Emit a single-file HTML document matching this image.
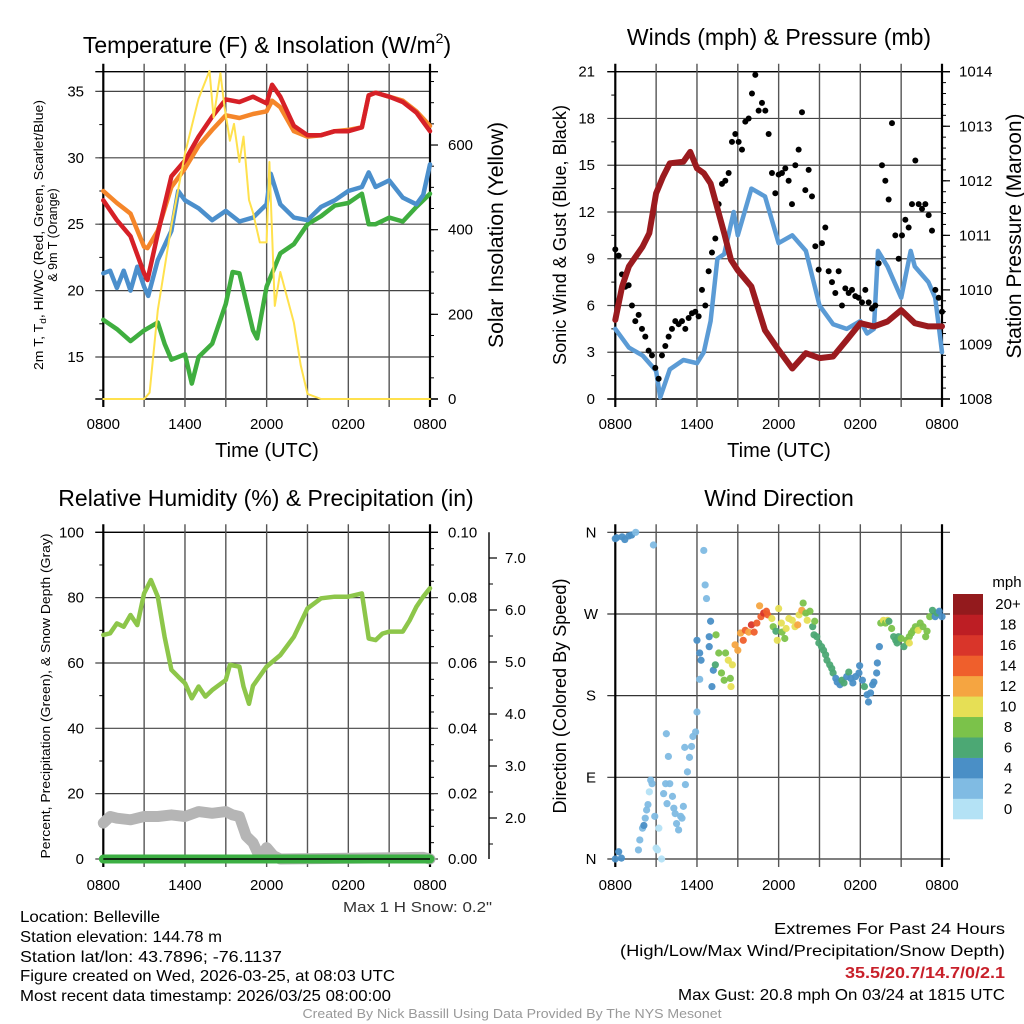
<!DOCTYPE html>
<html><head><meta charset="utf-8"><title>Belleville Mesonet Meteogram</title>
<style>
html,body{margin:0;padding:0;background:#fff;}
svg{display:block;font-family:"Liberation Sans",sans-serif;}
</style></head>
<body>
<svg id="chart" xmlns="http://www.w3.org/2000/svg" width="1024" height="1024" viewBox="0 0 1024 1024">
<rect x="0" y="0" width="1024" height="1024" fill="#fff"/>
<text x="267" y="53" font-size="23" text-anchor="middle">Temperature (F) &amp; Insolation (W/m<tspan font-size="14" dy="-10">2</tspan><tspan dy="10">)</tspan></text>
<text x="779" y="45" font-size="23" text-anchor="middle">Winds (mph) &amp; Pressure (mb)</text>
<text x="266" y="506" font-size="23" text-anchor="middle">Relative Humidity (%) &amp; Precipitation (in)</text>
<text x="779" y="506" font-size="23" text-anchor="middle">Wind Direction</text>
<text transform="translate(43,235) rotate(-90)" font-size="12.5" text-anchor="middle" textLength="270" lengthAdjust="spacingAndGlyphs">2m T, T<tspan font-size="9" dy="3">d</tspan><tspan dy="-3">, HI/WC (Red, Green, Scarlet/Blue)</tspan></text>
<text transform="translate(57,235) rotate(-90)" font-size="12.5" text-anchor="middle">&amp; 9m T (Orange)</text>
<text transform="translate(503,235) rotate(-90)" font-size="21" text-anchor="middle" textLength="226" lengthAdjust="spacingAndGlyphs">Solar Insolation (Yellow)</text>
<text x="267" y="457" font-size="20" text-anchor="middle">Time (UTC)</text>
<text transform="translate(566,235) rotate(-90)" font-size="18" text-anchor="middle" textLength="260" lengthAdjust="spacingAndGlyphs">Sonic Wind &amp; Gust (Blue, Black)</text>
<text transform="translate(1021,236) rotate(-90)" font-size="21" text-anchor="middle" textLength="245" lengthAdjust="spacingAndGlyphs">Station Pressure (Maroon)</text>
<text x="779" y="457" font-size="20" text-anchor="middle">Time (UTC)</text>
<text transform="translate(50,696) rotate(-90)" font-size="13" text-anchor="middle" textLength="325" lengthAdjust="spacingAndGlyphs">Percent, Precipitation (Green), &amp; Snow Depth (Gray)</text>
<text transform="translate(566,696) rotate(-90)" font-size="18" text-anchor="middle" textLength="235" lengthAdjust="spacingAndGlyphs">Direction (Colored By Speed)</text>
<g font-size="16">
<text x="20" y="922" textLength="140" lengthAdjust="spacingAndGlyphs">Location: Belleville</text>
<text x="20" y="942" textLength="202" lengthAdjust="spacingAndGlyphs">Station elevation: 144.78 m</text>
<text x="20" y="962" textLength="262" lengthAdjust="spacingAndGlyphs">Station lat/lon: 43.7896; -76.1137</text>
<text x="20" y="981" textLength="375" lengthAdjust="spacingAndGlyphs">Figure created on Wed, 2026-03-25, at 08:03 UTC</text>
<text x="20" y="1001" textLength="371" lengthAdjust="spacingAndGlyphs">Most recent data timestamp: 2026/03/25 08:00:00</text>
</g>
<text x="343" y="912" font-size="15" fill="#333" textLength="149" lengthAdjust="spacingAndGlyphs">Max 1 H Snow: 0.2"</text>
<g font-size="16" text-anchor="end">
<text x="1005" y="934" textLength="231" lengthAdjust="spacingAndGlyphs">Extremes For Past 24 Hours</text>
<text x="1005" y="956" textLength="385" lengthAdjust="spacingAndGlyphs">(High/Low/Max Wind/Precipitation/Snow Depth)</text>
<text x="1005" y="978" fill="#c8202a" font-weight="bold" textLength="160" lengthAdjust="spacingAndGlyphs">35.5/20.7/14.7/0/2.1</text>
<text x="1005" y="1000" textLength="327" lengthAdjust="spacingAndGlyphs">Max Gust: 20.8 mph On 03/24 at 1815 UTC</text>
</g>
<text x="512" y="1018" font-size="13" fill="#999" text-anchor="middle" textLength="419" lengthAdjust="spacingAndGlyphs">Created By Nick Bassill Using Data Provided By The NYS Mesonet</text>
</svg>
<script>
const timeTickHours = [0, 6, 12, 18, 24];
const timeTickLabels = ['0800', '1400', '2000', '0200', '0800'];

const tempTimes = [0,1,2,3,3.25,4,5,6,7,8,9,10,11,12,12.4,13,14,15,16,17,18,19,19.5,20,21,22,23,24];
const temp2m = [26.8,25.3,24.1,21.3,20.8,24.3,28.6,29.8,31.6,33.1,34.4,34.2,34.6,34.1,35.5,34.6,32.4,31.7,31.7,32.0,32.0,32.3,34.7,34.9,34.6,34.2,33.4,32.0];
const temp9m = [27.5,26.6,25.8,23.3,23.2,24.5,27.8,29.2,30.9,32.1,33.2,33.0,33.3,33.5,34.3,33.8,32.0,31.6,31.7,32.0,32.1,32.3,34.7,34.9,34.6,34.3,33.5,32.4];
const hiwcTimes = [0,0.5,1,1.5,2,2.5,3,3.3,4,5,5.5,6,7,8,9,10,11,12,12.3,13,14,15,16,17,18,19,19.5,20,21,22,23,23.5,24];
const hiwcVals = [21.3,21.5,20.2,21.5,20.0,21.8,20.3,19.6,22.3,24.5,27.5,26.8,26.2,25.3,26.0,25.2,25.5,26.5,28.8,26.5,25.5,25.3,26.3,26.8,27.5,27.8,28.9,27.8,28.3,27.0,26.5,27.2,29.5];
const dewTimes = [0,1,2,3,4,4.5,5,6,6.5,7,8,9,9.5,10,11,11.3,12,13,14,15,16,17,18,19,19.5,20,21,22,23,24];
const dewVals = [17.8,17.1,16.2,17.0,17.6,16.0,14.8,15.2,13.0,15.0,16.0,19.0,21.4,21.3,17.0,16.4,20.3,22.8,23.5,25.0,25.6,26.4,26.6,27.3,25.0,25.0,25.5,25.2,26.3,27.3];
const solarTimes = [0,3,3.4,4,5,6,7,7.8,8.1,8.6,8.9,9.3,9.6,10,10.3,10.7,11,11.5,12,12.2,12.6,13,14,14.5,15,16,24];
const solarVals = [0,0,15,210,410,580,710,775,665,770,690,610,650,560,620,470,440,370,370,560,220,300,180,80,12,0,0];
const tempTicks = [15,20,25,30,35];
const solarTicks = [0,200,400,600];

const windTimes = [0,1,2,3,3.3,4,5,6,6.5,7,7.5,8,8.7,9,10,11,11.5,12,13,14,15,16,17,18,18.5,19,19.3,20,21,21.7,22,23,23.5,24];
const windVals = [4.5,3.3,2.8,1.8,0.1,1.9,2.5,2.3,3.0,5.0,9.0,9.3,12,10.5,13.5,13.0,11.5,10.0,10.5,9.5,6.0,4.8,4.5,5.0,4.2,4.5,9.5,8.5,6.5,9.5,8.5,7.5,6.5,3.0];
const gustVals = [9.6,9.2,8.0,7.2,7.3,6.0,5.0,5.4,4.5,4.0,3.1,2.8,2.0,1.3,2.8,3.4,4.0,4.5,5.0,4.8,5.0,4.5,5.2,5.5,5.6,5.3,7.0,6.0,8.2,9.4,10.3,12.5,13.8,14.0,14.5,16.5,17.0,16.5,16.0,17.8,18.0,19.6,20.8,18.5,19.0,18.5,17.0,14.5,13.2,14.4,14.5,14.8,14.0,12.5,15.0,16.0,18.4,13.4,14.7,13.0,9.8,8.3,10.0,11.0,8.2,7.5,6.8,8.2,6.0,7.1,6.8,7.0,6.6,6.5,6.2,7.0,6.2,5.8,6.0,8.7,15.0,14.0,12.8,17.7,10.5,9.0,10.5,11.5,11.0,12.5,15.3,12.5,12.2,12.5,11.8,10.8,7.0,6.5,5.6];
const presTimes = [0,0.5,1,2,2.5,3,3.5,4,5,5.5,6,6.5,7,8,8.5,9,10,11,12,13,14,15,16,17,18,19,20,21,22,23,24];
const presVals = [1009.45,1010.06,1010.43,1010.79,1011.04,1011.77,1012.07,1012.32,1012.35,1012.53,1012.23,1012.14,1011.95,1011.04,1010.55,1010.36,1010.06,1009.26,1008.9,1008.56,1008.84,1008.75,1008.78,1009.08,1009.39,1009.33,1009.42,1009.63,1009.39,1009.33,1009.33];
const windTicks = [0,3,6,9,12,15,18,21];
const presTicks = [1008,1009,1010,1011,1012,1013,1014];

const rhTimes = [0,0.5,1,1.5,2,2.5,3,3.5,4,4.5,5,5.5,6,6.5,7,7.5,8,9,9.3,10,10.3,10.7,11,12,13,14,15,16,17,18,19,19.5,20,20.5,21,22,22.5,23,23.5,24];
const rhVals = [68.6,69.1,72.1,71.1,74.7,71.6,81.3,85.4,80.3,68,57.9,55.8,53.8,49.2,52.8,49.7,51.7,54.8,59.4,58.9,52.8,47.5,53,58.9,62.4,68,76.7,79.8,80.3,80.3,81.3,67.5,67,69,69.6,69.6,73,77.2,80.3,82.9];
const snowTimes = [0,0.5,1,2,3,4,5,6,7,8,9,9.5,10,10.5,11,11.5,12,12.5,13,23.5,24];
const snowVals = [11,13,12.5,12,13,13,13.5,13,14.5,14,14.5,13.5,13,7,5,0.5,3.5,1,0,0.5,0];
const precipTimes = [0,24];
const precipVals = [0,0];
const rhTicks = [0,20,40,60,80,100];
const precipTickLabels = ['0.00','0.02','0.04','0.06','0.08','0.10'];
const snowAxisTicks = [2,3,4,5,6,7];
const snowAxisLabels = ['2.0','3.0','4.0','5.0','6.0','7.0'];

const dirTimes = [0,0.1,0.5,0.7,1.0,1.2,1.5,2.8,0,0.25,0.45,1.7,1.8,2.0,2.1,2.2,2.3,2.4,2.6,2.7,2.5,2.9,3.2,3.0,3.4,3.1,3.55,3.7,3.8,4.0,4.2,4.3,4.4,4.5,4.65,4.8,4.9,5.0,3.9,3.75,5.15,5.3,5.45,5.1,5.6,5.7,5.9,6.0,6.0,6.2,6.3,6.5,6.6,6.7,6.2,6.9,6.9,7.0,7.1,7.2,7.35,7.4,7.6,7.8,8.0,8.1,8.3,8.45,8.5,8.6,8.8,9.0,9.2,9.4,9.55,9.8,10.0,10.2,10.4,10.6,10.7,10.9,11.1,11.2,11.5,11.6,11.8,11.9,12.0,12.2,12.25,12.45,12.55,12.75,13.0,13.2,13.4,13.5,13.7,13.8,14.0,14.1,14.3,14.5,14.65,14.6,14.8,14.95,15.15,15.3,15.45,15.55,15.75,15.9,16.0,16.2,16.3,16.5,16.65,16.8,17.0,17.15,17.3,17.45,17.65,17.9,17.95,18.15,18.3,18.5,18.6,18.75,18.9,19.0,19.2,19.25,19.4,19.5,19.7,19.85,20.0,20.1,20.3,20.45,20.6,20.7,20.8,21.0,21.2,21.4,21.6,21.6,21.75,21.9,22.05,22.25,22.4,22.6,22.8,22.9,23.1,23.3,23.5,23.65,23.8,24.0];
const dirDegs = [353,354,355,352,356,357,360,346,0,8,1,10,21,34,37,45,54,60,87,83,74,47,34,12,0,10,72,83,61,83,69,56,50,39,32,47,45,58,113,138,82,96,112,123,124,135,140,162,241,227,219,340,302,287,198,234,245,262,190,208,214,247,227,205,197,227,219,199,190,214,236,230,249,241,252,250,258,250,260,279,267,271,273,269,265,256,251,241,276,260,250,243,254,265,263,256,258,269,274,282,271,263,273,256,262,247,245,238,234,230,225,219,214,210,205,199,195,192,197,194,201,206,199,194,201,205,213,197,190,181,173,183,192,195,205,216,234,260,263,260,263,262,254,245,241,238,245,243,234,241,245,238,249,252,256,252,260,256,245,251,267,274,267,271,273,267];
const dirSpeeds = [4,4,4,4,4,4,2,2,4,4,4,2,2,2,4,2,2,2,2,2,0,2,0,0,0,0,2,2,2,2,2,2,2,2,2,2,2,2,2,2,2,2,2,2,2,2,2,2,4,4,4,2,2,2,2,4,4,4,4,4,6,8,8,8,8,8,10,8,10,10,12,12,12,14,14,12,16,14,14,12,14,16,14,14,10,8,6,10,10,10,8,8,10,10,10,10,12,10,12,8,8,10,8,6,8,6,6,6,6,6,6,6,6,6,6,4,4,4,6,6,4,6,4,4,4,4,4,4,6,4,4,4,4,4,4,4,4,8,10,8,10,6,8,6,6,6,6,8,6,8,8,10,8,8,8,10,8,8,8,8,8,6,4,6,4,4];
const dirTicks = [0,90,180,270,360];
const dirTickLabels = ['N','E','S','W','N'];
const speedColors = ['#b4e2f5','#80bbe3','#4a8fc6','#4ca874','#7bc24a','#e6df55','#f5a541','#ef5f2c','#d9352a','#bd1e24','#931a1d'];
const speedLabels = ['0','2','4','6','8','10','12','14','16','18','20+'];

const NS = 'http://www.w3.org/2000/svg';
const svg = document.getElementById('chart');
function mk(tag, attrs, parent) {
  const e = document.createElementNS(NS, tag);
  for (const k in attrs) e.setAttribute(k, attrs[k]);
  (parent || svg).appendChild(e);
  return e;
}
function label(str, x, y, size, anchor, name, g) {
  const t = mk('text', {x: x, y: y, 'font-size': size, 'text-anchor': anchor}, g);
  t.textContent = str;
  
  
  return t;
}
function seg(x1, y1, x2, y2, stroke, w, name, g) {
  const l = mk('line', {x1: x1, y1: y1, x2: x2, y2: y2, stroke: stroke, 'stroke-width': w}, g);
  
  
  return l;
}
function pathD(ts, vs, sx, sy) {
  let d = '';
  for (let i = 0; i < ts.length; i++) d += (i ? 'L' : 'M') + sx(ts[i]).toFixed(1) + ',' + sy(vs[i]).toFixed(1);
  return d;
}
function series(ts, vs, sx, sy, color, w, name, g) {
  const p = mk('path', {d: pathD(ts, vs, sx, sy), fill: 'none', stroke: color, 'stroke-width': w, 'stroke-linejoin': 'round', 'stroke-linecap': 'round'}, g);
  
  
  return p;
}
function frame(g, L, R, T, B, xlabY, prefix) {
  const sx = h => L + h * (R - L) / 24;
  for (let h = 3; h < 24; h += 3) seg(sx(h), T - 8, sx(h), B + 8, '#555', 1.4, prefix + '-vgrid', g);
  for (let i = 0; i < timeTickHours.length; i++) {
    label(timeTickLabels[i], sx(timeTickHours[i]), xlabY, 15, 'middle', prefix + '-x-tick-label', g);
  }
  seg(L, T - 8, L, B + 8, '#000', 2.2, prefix + '-left-axis', g);
  seg(R, T - 8, R, B + 8, '#000', 2.2, prefix + '-right-axis', g);
  return sx;
}

(function () {
  const g = mk('g', {});
  
  
  const L = 103.3, R = 430, T = 71.7, B = 399;
  const yT = v => 357 - (v - 15) * 13.28;
  const yS = w => 399 - w * 0.4233;
  for (let v = 12.5; v <= 35; v += 2.5) seg(L - 4, yT(v), L, yT(v), '#000', 1, 'temp-minor-tick', g);
  for (let w = 50; w <= 750; w += 50) seg(R, yS(w), R + 4, yS(w), '#000', 1, 'solar-minor-tick', g);
  tempTicks.forEach(v => {
    seg(L - 8, yT(v), R, yT(v), '#444', 1.2, 'temp-hgrid', g);
    label(String(v), 84, yT(v) + 5, 15, 'end', 'temp-y-tick-label', g);
  });
  solarTicks.forEach(w => {
    seg(R, yS(w), R + 8, yS(w), '#000', 1.2, 'solar-major-tick', g);
    label(String(w), 448, yS(w) + 5, 15, 'start', 'solar-y-tick-label', g);
  });
  seg(L - 8, T, R + 8, T, '#000', 1.4, 'temp-top-border', g);
  seg(L - 8, B, R + 8, B, '#000', 1.4, 'temp-bottom-border', g);
  const sx = frame(g, L, R, T, B, 429, 'temp');
  series(dewTimes, dewVals, sx, yT, '#3fae3f', 4.5, 'dewpoint-line', g);
  series(hiwcTimes, hiwcVals, sx, yT, '#4b8fcc', 4.5, 'windchill-line', g);
  series(tempTimes, temp9m, sx, yT, '#f5862a', 4.5, 'temp-9m-line', g);
  series(tempTimes, temp2m, sx, yT, '#d62027', 4.5, 'temp-2m-line', g);
  series(solarTimes, solarVals, sx, yS, '#ffe14d', 2, 'solar-insolation-line', g);
})();

(function () {
  const g = mk('g', {});
  
  
  const L = 615.3, R = 942, T = 71.7, B = 399;
  const yW = v => B - v * (B - T) / 21;
  const yP = p => B - (p - 1008) * (B - T) / 6;
  for (let v = 1.5; v < 21; v += 3) seg(L - 4, yW(v), L, yW(v), '#000', 1, 'wind-minor-tick', g);
  for (let p = 1008.2; p < 1014; p += 0.2) seg(R, yP(p), R + 4, yP(p), '#000', 1, 'pressure-minor-tick', g);
  windTicks.forEach(v => {
    seg(L - 8, yW(v), R, yW(v), '#444', 1.2, 'wind-hgrid', g);
    label(String(v), 595, yW(v) + 5, 15, 'end', 'wind-y-tick-label', g);
  });
  presTicks.forEach(p => {
    seg(R, yP(p), R + 8, yP(p), '#000', 1.2, 'pressure-major-tick', g);
    label(String(p), 959, yP(p) + 5, 15, 'start', 'pressure-y-tick-label', g);
  });
  seg(L - 8, T, R + 8, T, '#000', 1.4, 'wind-top-border', g);
  seg(L - 8, B, R + 8, B, '#000', 1.4, 'wind-bottom-border', g);
  const sx = frame(g, L, R, T, B, 429, 'wind');
  series(windTimes, windVals, sx, yW, '#5b9bd5', 4.5, 'wind-speed-line', g);
  for (let i = 0; i < gustVals.length; i++) {
    const c = mk('circle', {cx: sx(i * 24 / (gustVals.length - 1)), cy: yW(gustVals[i]), r: 3, fill: '#000'}, g);
    
    
  }
  series(presTimes, presVals, sx, yP, '#9b1b1f', 6, 'pressure-line', g);
})();

(function () {
  const g = mk('g', {});
  
  
  const L = 103.3, R = 430, T = 532.3, B = 859;
  const yR = v => B - v * (B - T) / 100;
  for (let v = 10; v < 100; v += 20) seg(L - 4, yR(v), L, yR(v), '#000', 1, 'rh-minor-tick', g);
  for (let v = 5; v < 100; v += 5) seg(R, yR(v), R + 4, yR(v), '#000', 1, 'precip-minor-tick', g);
  rhTicks.forEach((v, i) => {
    seg(L - 8, yR(v), R + 8, yR(v), '#444', 1.2, 'rh-hgrid', g);
    label(String(v), 84, yR(v) + 5, 15, 'end', 'rh-y-tick-label', g);
    label(precipTickLabels[i], 448, yR(v) + 5, 15, 'start', 'precip-y-tick-label', g);
  });
  const ySn = s => 818 - (s - 2) * 52;
  seg(489, T, 489, B, '#000', 1.4, 'snow-axis-line', g);
  for (let s = 1.5; s < 7.5; s += 0.5) seg(489, ySn(s), 493, ySn(s), '#000', 1, 'snow-minor-tick', g);
  snowAxisTicks.forEach((s, i) => {
    seg(489, ySn(s), 497, ySn(s), '#000', 1.2, 'snow-major-tick', g);
    label(snowAxisLabels[i], 505, ySn(s) + 5, 15, 'start', 'snow-y-tick-label', g);
  });
  seg(L - 8, T, R + 8, T, '#000', 1.4, 'rh-top-border', g);
  const sx = frame(g, L, R, T, B, 890, 'rh');
  series(rhTimes, rhVals, sx, yR, '#8dc64a', 4.5, 'rh-line', g);
  series(snowTimes, snowVals, sx, yR, '#b5b5b5', 11, 'snow-depth-line', g);
  series(precipTimes, precipVals, sx, yR, '#3db044', 9, 'precip-line', g);
  seg(L, B, R, B, '#000', 1.4, 'rh-bottom-border', g);
})();

(function () {
  const g = mk('g', {});
  
  
  const L = 615.3, R = 942, T = 532.3, B = 859;
  const yD = d => B - d * (B - T) / 360;
  dirTicks.forEach((d, i) => {
    seg(L - 8, yD(d), R + 8, yD(d), '#333', 1.2, 'direction-hgrid', g);
    label(dirTickLabels[i], 591, yD(d) + 5, 15, 'middle', 'direction-y-tick-label', g);
  });
  const sx = frame(g, L, R, T, B, 890, 'dir');
  for (let i = 0; i < dirTimes.length; i++) {
    const idx = Math.min(10, Math.floor(dirSpeeds[i] / 2));
    const c = mk('circle', {cx: sx(dirTimes[i]), cy: yD(dirDegs[i]), r: 3.6, fill: speedColors[idx], 'fill-opacity': 0.95}, g);
    
    
  }
  const cb = mk('g', {}, g);
  
  
  const boxH = 225 / 11;
  for (let i = 0; i < 11; i++) {
    const y = 594 + (10 - i) * boxH;
    const r = mk('rect', {x: 953, y: y, width: 30, height: boxH + 0.3, fill: speedColors[i]}, cb);
    
    
    label(speedLabels[i], 1008, y + boxH / 2 + 5, 15, 'middle', 'colorbar-label', cb);
  }
  label('mph', 1007, 587, 15, 'middle', 'colorbar-title', cb);
})();
</script>
</body></html>
